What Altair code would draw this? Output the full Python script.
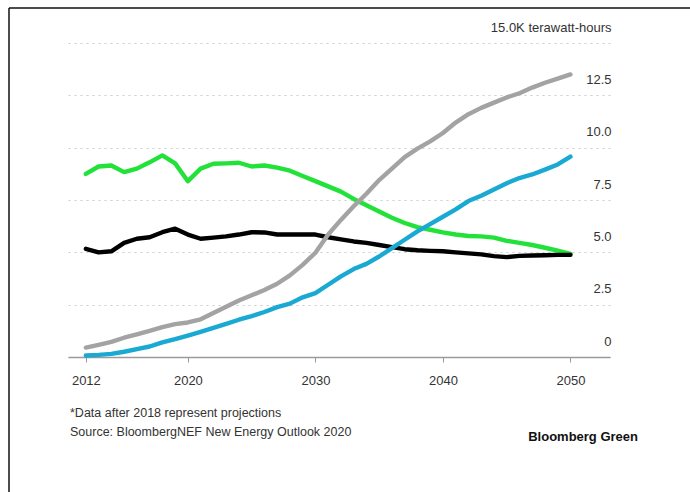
import altair as alt
import pandas as pd

# Global electricity generation, thousand terawatt-hours (projections after 2018)
years = list(range(2012, 2051))

green_series = [
    8.75, 9.10, 9.15, 8.83, 9.00, 9.30, 9.63, 9.25, 8.40, 9.00,
    9.23, 9.25, 9.28, 9.10, 9.15, 9.05, 8.90, 8.65, 8.40, 8.15,
    7.90, 7.55, 7.25, 6.95, 6.65, 6.40, 6.20, 6.08, 5.95, 5.85,
    5.78, 5.76, 5.70, 5.55, 5.45, 5.35, 5.22, 5.08, 4.93,
]
black_series = [
    5.17, 5.00, 5.05, 5.45, 5.65, 5.72, 5.96, 6.13, 5.85, 5.65,
    5.70, 5.76, 5.85, 5.96, 5.95, 5.85, 5.85, 5.85, 5.85, 5.72,
    5.62, 5.52, 5.45, 5.35, 5.25, 5.15, 5.10, 5.07, 5.05, 5.00,
    4.95, 4.90, 4.82, 4.77, 4.83, 4.85, 4.86, 4.88, 4.88,
]
blue_series = [
    0.07, 0.10, 0.15, 0.25, 0.38, 0.50, 0.70, 0.85, 1.02, 1.20,
    1.39, 1.58, 1.78, 1.95, 2.15, 2.38, 2.55, 2.85, 3.05, 3.45,
    3.85, 4.20, 4.45, 4.80, 5.20, 5.60, 6.00, 6.35, 6.70, 7.05,
    7.45, 7.70, 8.00, 8.30, 8.55, 8.72, 8.95, 9.20, 9.57,
]
gray_series = [
    0.45, 0.58, 0.72, 0.92, 1.08, 1.25, 1.43, 1.57, 1.65, 1.80,
    2.10, 2.40, 2.70, 2.95, 3.20, 3.50, 3.90, 4.40, 4.98, 5.85,
    6.55, 7.20, 7.80, 8.45, 9.00, 9.55, 9.95, 10.30, 10.70, 11.20,
    11.60, 11.90, 12.15, 12.40, 12.60, 12.87, 13.10, 13.30, 13.50,
]

series_names = ["green", "black", "blue", "gray"]
series_values = [green_series, black_series, blue_series, gray_series]
series_colors = ["#22e23a", "#000000", "#19a9d3", "#a3a3a3"]

y_ticks = [0, 2.5, 5, 7.5, 10, 12.5, 15]
x_ticks = [2012, 2020, 2030, 2040, 2050]

footnote = "*Data after 2018 represent projections"
source = "Source: BloombergNEF New Energy Outlook 2020"
brand_text = "Bloomberg Green"

rows = []
for name, vals in zip(series_names, series_values):
    for yr, v in zip(years, vals):
        rows.append({"year": yr, "value": v, "series": name})
df = pd.DataFrame(rows)
single = pd.DataFrame({"k": [0]})

FONT = "Liberation Sans"
W, H = 542, 314

x_scale = alt.Scale(domain=[2010.6, 2053.1], nice=False, zero=False)
y_scale = alt.Scale(domain=[0, 15], nice=False)

x_axis = alt.Axis(
    values=x_ticks, format="d", title=None,
    domainColor="#9a9a9a", domainWidth=1.5,
    tickColor="#9a9a9a", tickSize=5, tickWidth=1,
    labelFont=FONT, labelFontSize=13, labelColor="#333333",
    labelPadding=12, grid=False,
)
y_axis = alt.Axis(
    values=y_ticks, orient="right", title=None,
    domain=False, ticks=False,
    labelAlign="right", labelBaseline="middle", labelOffset=-16, labelPadding=1,
    labelFont=FONT, labelFontSize=13, labelColor="#333333",
    labelExpr="datum.value == 15 ? '15.0K terawatt-hours' : (datum.value == 0 ? '0' : format(datum.value, '.1f'))",
    grid=True, gridColor="#cccccc", gridDash=[2, 4], gridWidth=1.2,
)

base = alt.Chart(df)

# gridlines / axes carrier
axes_layer = base.mark_line(opacity=0).encode(
    x=alt.X("year:Q", scale=x_scale, axis=x_axis),
    y=alt.Y("value:Q", scale=y_scale, axis=y_axis),
)

line_layers = []
for name, color in zip(series_names, series_colors):
    line_layers.append(
        base.transform_filter(alt.datum.series == name)
        .mark_line(color=color, strokeWidth=4.4, strokeJoin="round", strokeCap="round")
        .encode(
            x=alt.X("year:Q", scale=x_scale),
            y=alt.Y("value:Q", scale=y_scale),
        )
    )

ann = alt.Chart(single)

note_1 = ann.mark_text(
    text=footnote, align="left", baseline="middle",
    font=FONT, fontSize=12.5, color="#333333",
).encode(x=alt.value(2), y=alt.value(370))

note_2 = ann.mark_text(
    text=source, align="left", baseline="middle",
    font=FONT, fontSize=12.5, color="#333333",
).encode(x=alt.value(2), y=alt.value(389))

brand = ann.mark_text(
    text=brand_text, align="right", baseline="middle",
    font=FONT, fontSize=13, fontWeight="bold", color="#111111",
).encode(x=alt.value(570), y=alt.value(394))

# thin frame along the top and left edges
frame_top = ann.mark_rule(color="#111111", strokeWidth=1.5).encode(
    x=alt.value(-59), x2=alt.value(622), y=alt.value(-35)
)
frame_left = ann.mark_rule(color="#111111", strokeWidth=1.5).encode(
    x=alt.value(-59), y=alt.value(-35), y2=alt.value(449)
)

chart = alt.layer(
    axes_layer, *line_layers, note_1, note_2, brand, frame_top, frame_left
).properties(
    width=W, height=H,
    autosize=alt.AutoSizeParams(type="none"),
    padding={"left": 68, "top": 43, "right": 80, "bottom": 135},
    background="white",
).configure_view(stroke=None)

chart.save("out.html", embed_options={"renderer": "svg", "actions": False})
